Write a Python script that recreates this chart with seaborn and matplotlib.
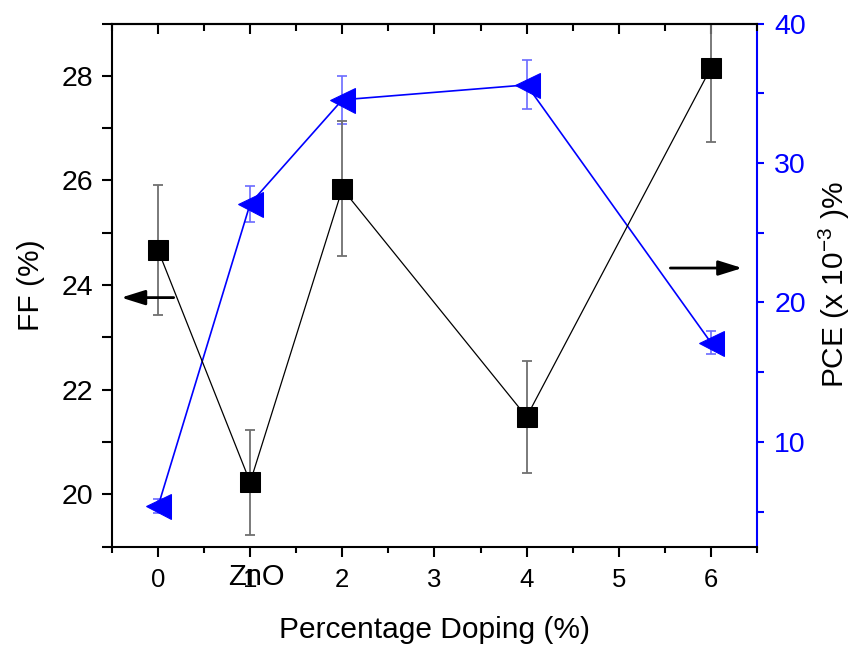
import matplotlib
matplotlib.use("Agg")
import matplotlib.pyplot as plt
import seaborn as sns
import numpy as np
import pandas as pd
from matplotlib.ticker import MultipleLocator

# ---- data ----
doping = [0, 1, 2, 4, 6]
xtick_vals = [0, 1, 2, 3, 4, 5, 6]
xtick_labels = ["0", "1", "2", "3", "4", "5", "6"]
ff = [24.67, 20.23, 25.84, 21.48, 28.15]
ff_err = [1.24, 1.00, 1.29, 1.07, 1.42]
pce = [5.38, 27.08, 34.53, 35.60, 17.13]
pce_err = [0.5, 1.3, 1.7, 1.75, 0.8]
ff_ticks = [20, 22, 24, 26, 28]
pce_ticks = [10, 20, 30, 40]

df = pd.DataFrame({"doping": doping, "ff": ff, "pce": pce})

sns.set_theme(style="ticks")
plt.rcParams["font.family"] = ["Liberation Sans", "DejaVu Sans"]
plt.rcParams["text.color"] = "black"
plt.rcParams["axes.labelcolor"] = "black"
plt.rcParams["mathtext.fontset"] = "custom"
plt.rcParams["mathtext.rm"] = "Liberation Sans"
plt.rcParams["mathtext.it"] = "Liberation Sans"
plt.rcParams["axes.unicode_minus"] = False

fig = plt.figure(figsize=(8.56, 6.48), dpi=100)
ax = fig.add_axes([0.1308, 0.1565, 0.7535, 0.8072])
ax2 = ax.twinx()

# FF series (left)
ax.errorbar(doping, ff, yerr=ff_err, fmt="none", ecolor="#707070",
            elinewidth=1.3, capsize=3.8, capthick=1.3, zorder=2)
sns.lineplot(data=df, x="doping", y="ff", ax=ax, color="black", lw=0.9,
             marker="s", markersize=14, markerfacecolor="black",
             markeredgecolor="black", zorder=3)

# PCE series (right)
ax2.errorbar(doping, pce, yerr=pce_err, fmt="none", ecolor="#6b6bff",
             elinewidth=1.2, capsize=3.8, capthick=1.2, zorder=2)
sns.lineplot(data=df, x="doping", y="pce", ax=ax2, color="blue", lw=1.2,
             marker="<", markersize=18, markerfacecolor="blue",
             markeredgecolor="blue", zorder=3)

ax.set_xlim(-0.5, 6.5)
ax.set_ylim(19, 29)
ax2.set_ylim(2.5, 40)

ax.set_xticks(xtick_vals)
ax.set_xticklabels(xtick_labels)
ax.xaxis.set_minor_locator(MultipleLocator(0.5))
ax.set_yticks(ff_ticks)
ax.yaxis.set_minor_locator(MultipleLocator(1))
ax2.set_yticks(pce_ticks)
ax2.yaxis.set_minor_locator(MultipleLocator(5))

ax.tick_params(axis="both", which="both", direction="out", width=1.5,
               colors="black")
ax.tick_params(axis="x", which="major", length=7.2, pad=8.2, labelsize=18.5)
ax.tick_params(axis="x", which="minor", length=4.5)
ax.tick_params(axis="y", which="major", length=7.2, pad=6.5, labelsize=20.5)
ax.tick_params(axis="y", which="minor", length=7.2)
ax2.tick_params(axis="y", which="both", direction="out", width=1.5,
                colors="blue", labelsize=20.5)
ax2.tick_params(axis="y", which="major", length=5, pad=7.5)
ax2.tick_params(axis="y", which="minor", length=5)

# top ticks pointing inward
top = ax.secondary_xaxis("top")
top.set_xticks(xtick_vals)
top.xaxis.set_minor_locator(MultipleLocator(0.5))
top.tick_params(axis="x", which="both", direction="in", width=1.5,
                labeltop=False, colors="black")
top.tick_params(axis="x", which="major", length=7.2)
top.tick_params(axis="x", which="minor", length=5)
top.spines["top"].set_linewidth(1.5)
top.spines["top"].set_color("black")

for s in ["left", "bottom", "top"]:
    ax.spines[s].set_linewidth(1.5)
    ax.spines[s].set_color("black")
ax2.spines["right"].set_color("blue")
ax2.spines["right"].set_linewidth(1.5)
for s in ["left", "bottom", "top"]:
    ax2.spines[s].set_visible(False)
ax.spines["right"].set_visible(False)

ax.set_xlabel("Percentage Doping (%)", fontsize=21.5, labelpad=17)
ax.set_ylabel("FF (%)", fontsize=21.5, labelpad=12)
ax2.set_ylabel("PCE (x 10$^{-3}$ )%", fontsize=21.5, labelpad=8, color="black")

# ZnO label overlapping tick "1"
ax.text(1.07, -0.058, "ZnO", transform=ax.get_xaxis_transform(),
        fontsize=21, ha="center", va="center", color="black")

# arrows pointing to axes
ax.annotate("", xy=(-0.43, 23.76), xytext=(0.2, 23.76),
            arrowprops=dict(arrowstyle="-|>,head_length=0.8,head_width=0.25",
                            color="black", lw=2.0, mutation_scale=18))
ax2.annotate("", xy=(6.37, 22.47), xytext=(5.53, 22.47),
             arrowprops=dict(arrowstyle="-|>,head_length=0.8,head_width=0.25",
                             color="black", lw=2.0, mutation_scale=18))

ax.set_zorder(ax2.get_zorder() + 1)
ax.patch.set_visible(False)

fig.savefig("out.png", dpi=100)
